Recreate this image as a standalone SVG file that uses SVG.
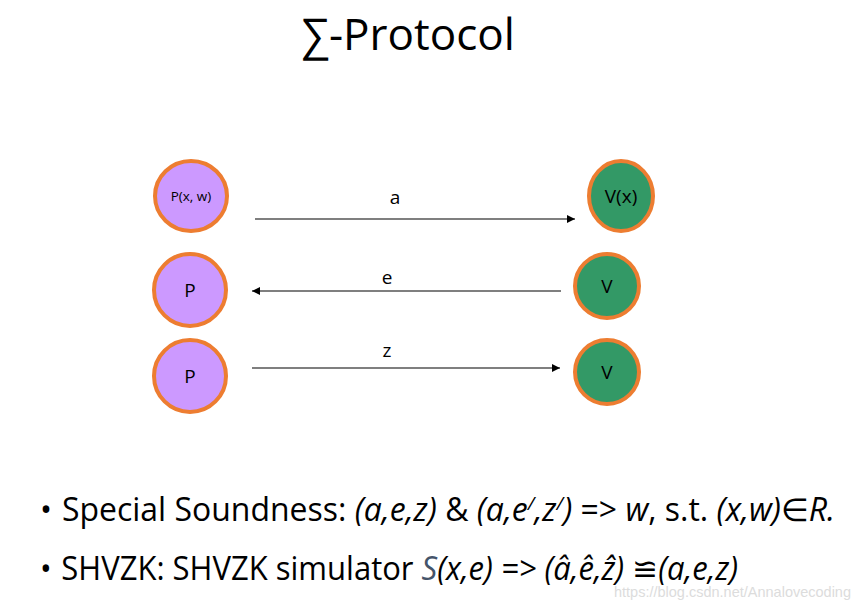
<svg xmlns="http://www.w3.org/2000/svg" width="860" height="610" viewBox="0 0 860 610">
<style>
  text { font-family: "Open Sans", "Noto Sans", "DejaVu Sans", sans-serif; fill: #000; }
  .p { fill: #CC99FF; stroke: #ED7D31; stroke-width: 4; }
  .v { fill: #339966; stroke: #ED7D31; stroke-width: 4; }
  .lbl { font-size: 19px; text-anchor: middle; }
  .edge { stroke: #000; stroke-width: 1.2; fill: none; }
  .it { font-style: italic; }
  .bul { font-size: 32px; }
</style>
<defs>
  <marker id="arr" viewBox="0 0 10 10" refX="10" refY="5" markerWidth="10" markerHeight="8" markerUnits="userSpaceOnUse" orient="auto">
    <path d="M0,0 L10,5 L0,10 z" fill="#000"/>
  </marker>
</defs>
<rect width="860" height="610" fill="#fff"/>
<text x="408" y="50" font-size="44" text-anchor="middle">∑-Protocol</text>

<g id="P1"><ellipse class="p" cx="191" cy="196" rx="36" ry="35"/><text x="191" y="201" font-size="13.5" text-anchor="middle">P(x, w)</text></g>
<g id="V1"><ellipse class="v" cx="621" cy="196" rx="32" ry="35"/><text x="621" y="203" class="lbl" font-size="21">V(x)</text></g>
<g id="P2"><circle class="p" cx="190" cy="290" r="36"/><text x="190" y="297" class="lbl">P</text></g>
<g id="V2"><circle class="v" cx="607" cy="286" r="32"/><text x="607" y="293" class="lbl">V</text></g>
<g id="P3"><circle class="p" cx="190" cy="376" r="36"/><text x="190" y="383" class="lbl">P</text></g>
<g id="V3"><circle class="v" cx="607" cy="372" r="32"/><text x="607" y="379" class="lbl">V</text></g>

<g id="connectors">
  <line class="edge" x1="255" y1="219" x2="575" y2="219" marker-end="url(#arr)"/>
  <text x="395" y="204" class="lbl">a</text>
  <line class="edge" x1="561" y1="291" x2="252" y2="291" marker-end="url(#arr)"/>
  <text x="387" y="284" class="lbl">e</text>
  <line class="edge" x1="252" y1="368" x2="560" y2="368" marker-end="url(#arr)"/>
  <text x="387" y="357" class="lbl">z</text>
</g>

<text class="bul" x="40" y="521" textLength="795" lengthAdjust="spacingAndGlyphs">•<tspan dx="10">Special Soundness: </tspan><tspan class="it">(a,e,z)</tspan> &amp; <tspan class="it">(a,e</tspan><tspan class="it" font-size="19" dy="-11">/</tspan><tspan class="it" dy="11">,z</tspan><tspan class="it" font-size="19" dy="-11">/</tspan><tspan class="it" dy="11">)</tspan> =&gt; <tspan class="it">w</tspan>, s.t. <tspan class="it">(x,w)</tspan><tspan class="it">∈R.</tspan></text>
<text class="bul" x="40" y="580" textLength="698" lengthAdjust="spacingAndGlyphs">•<tspan dx="10">SHVZK: SHVZK simulator </tspan><tspan class="it" fill="#44546A">S</tspan><tspan class="it">(x,e) =&gt; (â,ê,ẑ) </tspan>≌<tspan class="it">(a,e,z)</tspan></text>
<text x="851" y="597" font-size="14.5" text-anchor="end" style="fill:#dcdcdc;font-family:'Liberation Sans',sans-serif">https://blog.csdn.net/Annalovecoding</text>
</svg>
